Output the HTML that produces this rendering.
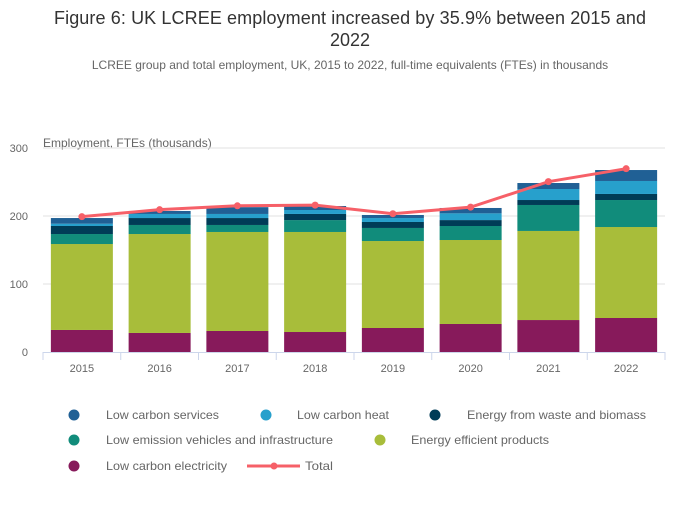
<!DOCTYPE html>
<html><head><meta charset="utf-8"><style>
body{margin:0;background:#fff;font-family:"Liberation Sans",sans-serif;}
svg text{font-family:"Liberation Sans",sans-serif;}
</style></head><body>
<svg id="c" width="700" height="502" viewBox="0 0 700 502">
<text x="350" y="24" text-anchor="middle" font-size="18" fill="#333" textLength="592">Figure 6: UK LCREE employment increased by 35.9% between 2015 and</text>
<text x="350" y="46" text-anchor="middle" font-size="18" fill="#333">2022</text>
<text x="350" y="69" text-anchor="middle" font-size="12" fill="#666">LCREE group and total employment, UK, 2015 to 2022, full-time equivalents (FTEs) in thousands</text>
<text x="43" y="147" font-size="12" fill="#666">Employment, FTEs (thousands)</text>
<g id="grid"></g><g id="bars"></g><g id="line"></g><g id="axis"></g><g id="legend"></g>
</svg>
<script>
const categories=["2015","2016","2017","2018","2019","2020","2021","2022"];
const seriesNames=["Low carbon electricity","Energy efficient products","Low emission vehicles and infrastructure","Energy from waste and biomass","Low carbon heat","Low carbon services"];
const seriesColors=["#871a5b","#a8bd3a","#118c7b","#003c57","#27a0cc","#206095"];
const electricity=[32.4,28,30.9,29.4,35.3,41.2,47,50];
const efficient=[126.4,145.5,145.6,147.1,127.9,123.5,131,133.8];
const vehicles=[14.7,13.3,10.3,17.5,19.2,20.6,38.2,39.7];
const waste=[11.8,10.2,10.2,9,8.8,8.7,7.3,8.9];
const heat=[3.4,6,6,5.8,5.8,9.9,16.2,19.1];
const services=[8.3,4.4,10,5.9,4.5,7.9,8.8,16.1];
const total=[199,209.3,215,216,203.4,213,250.5,269.6];
const yTicks=[0,100,200,300];
const series=[electricity,efficient,vehicles,waste,heat,services];
const NS="http://www.w3.org/2000/svg";
const x0=43,x1=665,y0=352,yScale=v=>y0-v*0.68;
const slot=(x1-x0)/categories.length;
const xc=i=>x0+slot*(i+0.5);
function mk(tag,attrs,parent){const e=document.createElementNS(NS,tag);for(const k in attrs)e.setAttribute(k,attrs[k]);parent.appendChild(e);return e;}
const grid=document.getElementById('grid'),bars=document.getElementById('bars'),line=document.getElementById('line'),axis=document.getElementById('axis'),legend=document.getElementById('legend');
yTicks.forEach(t=>{
 if(t>0){const g=mk('line',{x1:x0,x2:x1,y1:yScale(t),y2:yScale(t),stroke:'#e0e0e0','stroke-width':1},grid);
 
 }
 const tx=mk('text',{x:28,y:yScale(t)+4,'text-anchor':'end','font-size':11,fill:'#666'},axis);
 tx.textContent=t;
 
 
});
const ax=mk('line',{x1:x0,x2:x1,y1:y0+0.5,y2:y0+0.5,stroke:'#ccd6eb','stroke-width':1},axis);


for(let i=0;i<=categories.length;i++){
 const tk=mk('line',{x1:x0+slot*i,x2:x0+slot*i,y1:y0,y2:y0+8,stroke:'#ccd6eb'},axis);
 
 
}
categories.forEach((c,i)=>{
 const tx=mk('text',{x:xc(i),y:372,'text-anchor':'middle','font-size':11,fill:'#666'},axis);
 tx.textContent=c;
 
 
 let cum=0;
 series.forEach((s,k)=>{
  const top=yScale(cum+s[i]),bot=yScale(cum);
  const r=mk('rect',{x:xc(i)-31,y:top,width:62,height:bot-top,fill:seriesColors[k]},bars);
  
  
  cum+=s[i];
 });
});
const pl=mk('polyline',{points:total.map((v,i)=>xc(i)+','+yScale(v)).join(' '),fill:'none',stroke:'#f66068','stroke-width':3},line);


total.forEach((v,i)=>{
 const p=mk('circle',{cx:xc(i),cy:yScale(v),r:3.5,fill:'#f66068'},line);
 
 
});
const leg=[[5,74,415,106,113],[4,266,415,297,92],[3,435,415,467,179],[2,74,440,106,227],[1,380,440,411,138],[0,74,466,106,121]];
leg.forEach(([k,cx,cy,tx,w])=>{
 const c=mk('circle',{cx:cx,cy:cy,r:5.5,fill:seriesColors[k]},legend);
 
 
 const t=mk('text',{x:tx,y:cy+4,'font-size':12,fill:'#666',textLength:w,lengthAdjust:'spacingAndGlyphs'},legend);
 t.textContent=seriesNames[k];
 
 
});
const ll=mk('line',{x1:247,x2:300,y1:466,y2:466,stroke:'#f66068','stroke-width':3},legend);


const lc=mk('circle',{cx:274,cy:466,r:3.5,fill:'#f66068'},legend);


const lt=mk('text',{x:305,y:470,'font-size':12,fill:'#666',textLength:28,lengthAdjust:'spacingAndGlyphs'},legend);
lt.textContent='Total';


</script>
</body></html>
